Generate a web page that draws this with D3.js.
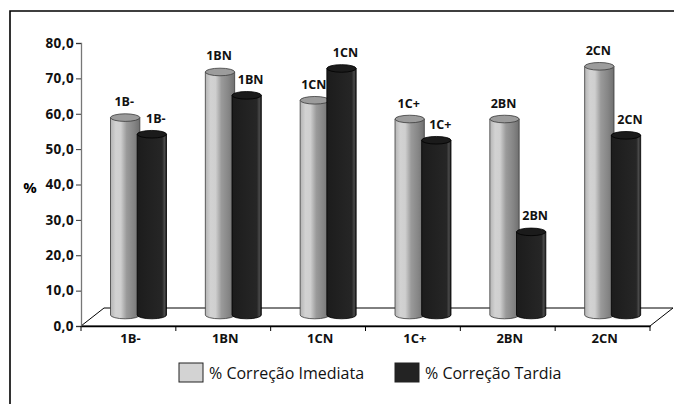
<!DOCTYPE html>
<html>
<head>
<meta charset="utf-8">
<script src="https://cdn.jsdelivr.net/npm/d3@7"></script>
<style>
  html, body { margin: 0; padding: 0; background: #fff; }
  svg { display: block; font-family: "Open Sans", "Noto Sans", sans-serif; }
</style>
</head>
<body>
<svg id="chart" width="674" height="404"></svg>
<script>
// Categories and series values (%)
const categories = ["1B-", "1BN", "1CN", "1C+", "2BN", "2CN"];
const seriesNames = ["% Correção Imediata", "% Correção Tardia"];
const imediata = [55.8, 68.7, 60.7, 55.4, 55.4, 70.3];
const tardia   = [51.1, 62.1, 69.7, 49.4, 23.5, 50.8];
const yTicks = [0, 10, 20, 30, 40, 50, 60, 70, 80];

const svg = d3.select("#chart");

// Plot geometry
const plotLeft = 81, plotRight = 650, plotBottom = 326, plotTop = 43;
const depth = { x: 23, y: -18 };      // floor depth vector
const serDepth = { x: 10.5, y: -11 }; // where the cylinders stand inside the floor

const x = d3.scaleBand().domain(categories).range([plotLeft, plotRight]);
const y = d3.scaleLinear().domain([0, 80]).range([plotBottom, plotTop]);
const s = d3.scaleBand().domain(seriesNames).range([0, 56]).paddingInner(-0.1);

const fmt = d => d.toFixed(1).replace(".", ",");

// Gradients for the cylinder bodies
const defs = svg.append("defs");
const gLight = defs.append("linearGradient").attr("id", "gLight");
[[0, "#b4b4b4"], [0.18, "#d2d2d2"], [0.35, "#cfcfcf"], [0.55, "#9a9a9a"], [0.8, "#858585"], [1, "#6f6f6f"]]
  .forEach(([o, c]) => gLight.append("stop").attr("offset", o).attr("stop-color", c));
const gDark = defs.append("linearGradient").attr("id", "gDark");
[[0, "#1c1c1c"], [0.5, "#222"], [0.85, "#262626"], [0.93, "#4a4a4a"], [1, "#1a1a1a"]]
  .forEach(([o, c]) => gDark.append("stop").attr("offset", o).attr("stop-color", c));

// Outer frame (top and left edges)
svg.append("path")
  .attr("d", "M10,404 L10,11 L674,11")
  .attr("fill", "none").attr("stroke", "#000").attr("stroke-width", 1.6);

// Floor
const floor = [[plotLeft, plotBottom], [plotLeft + depth.x, plotBottom + depth.y],
               [plotRight + depth.x, plotBottom + depth.y], [plotRight, plotBottom]];
svg.append("path")
  .attr("d", d3.line()(floor) + "Z")
  .attr("fill", "#fff").attr("stroke", "#000").attr("stroke-width", 1);

// Y axis
const yAxis = svg.append("g").attr("transform", `translate(${plotLeft},0)`)
  .call(d3.axisLeft(y).tickValues(yTicks).tickFormat(fmt).tickSize(5).tickPadding(2));
yAxis.select(".domain").attr("stroke", "#777").attr("stroke-width", 1.3);
yAxis.selectAll(".tick line").attr("stroke", "#333");
yAxis.selectAll("text").attr("font-size", 13.5).attr("font-weight", "bold").attr("fill", "#111")
  .attr("letter-spacing", 0.4).attr("font-family", "'Open Sans', sans-serif");

svg.append("text").attr("x", 30).attr("y", 193).attr("text-anchor", "middle")
  .attr("font-size", 15).attr("font-weight", "bold").text("%");

// X axis (front edge of the floor)
const xAxis = svg.append("g").attr("transform", `translate(0,${plotBottom})`)
  .call(d3.axisBottom(x).tickSize(0).tickPadding(8));
xAxis.select(".domain").attr("stroke", "#000").attr("stroke-width", 1.3);
xAxis.selectAll("text").attr("font-size", 13).attr("font-weight", "bold").attr("fill", "#111")
  .attr("font-family", "'Open Sans', sans-serif").attr("dx", 2);
xAxis.selectAll(".bound").data(categories.concat([null])).enter().append("line")
  .attr("x1", (d, i) => plotLeft + i * x.bandwidth()).attr("x2", (d, i) => plotLeft + i * x.bandwidth())
  .attr("y1", 0).attr("y2", 5).attr("stroke", "#000");

// Cylinders
const series = [
  { name: seriesNames[0], values: imediata, fill: "url(#gLight)", topFill: "#9c9c9c", stroke: "#3a3a3a", labelDx: -1 },
  { name: seriesNames[1], values: tardia,   fill: "url(#gDark)",  topFill: "#1b1b1b", stroke: "#000",    labelDx: 4 }
];
const ry = 3.8;
const plot = svg.append("g");
categories.forEach((cat, i) => {
  series.forEach(ser => {
    const x0 = x(cat) + serDepth.x + 19 + s(ser.name);
    const w = s.bandwidth();
    const rx = w / 2, cx = x0 + rx;
    const yb = y(0) + serDepth.y;
    const yt = y(ser.values[i]) + serDepth.y;
    const g = plot.append("g");
    g.append("path")
      .attr("d", `M${x0},${yt} L${x0},${yb} A${rx},${ry} 0 0 0 ${x0 + w},${yb} L${x0 + w},${yt} Z`)
      .attr("fill", ser.fill).attr("stroke", ser.stroke).attr("stroke-width", 0.8);
    g.append("ellipse")
      .attr("cx", cx).attr("cy", yt).attr("rx", rx).attr("ry", ry)
      .attr("fill", ser.topFill).attr("stroke", ser.stroke).attr("stroke-width", 0.8);
    g.append("text")
      .attr("x", cx + ser.labelDx).attr("y", yt - 11.5)
      .attr("text-anchor", "middle").attr("font-size", 12.5).attr("font-weight", "bold").attr("fill", "#111")
      .text(cat);
  });
});

// Legend
const legend = svg.append("g");
const legendItems = [
  { name: seriesNames[0], fill: "#d3d3d3", x: 179 },
  { name: seriesNames[1], fill: "#232323", x: 395 }
];
legendItems.forEach(it => {
  legend.append("rect").attr("x", it.x).attr("y", 363).attr("width", 24).attr("height", 19)
    .attr("fill", it.fill).attr("stroke", "#222").attr("stroke-width", 1);
  legend.append("text").attr("x", it.x + 30).attr("y", 378.5)
    .attr("font-size", 16).attr("fill", "#111").text(it.name);
});
</script>
</body>
</html>
